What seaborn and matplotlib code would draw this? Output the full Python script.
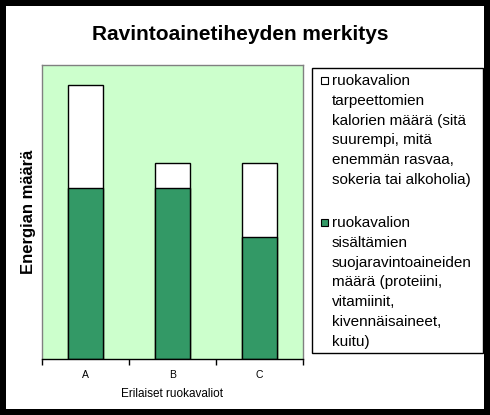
import matplotlib
matplotlib.use("Agg")
import matplotlib.pyplot as plt
from matplotlib.patches import Rectangle
import seaborn as sns

# data
diets = ["A", "B", "C"]
protective = [3.5, 3.5, 2.5]      # suojaravintoaineet (green)
empty_cal = [2.1, 0.5, 1.5]       # tarpeettomat kalorit (white)
totals = [p + e for p, e in zip(protective, empty_cal)]

legend_labels = [
    "ruokavalion\ntarpeettomien\nkalorien määrä (sitä\nsuurempi, mitä\nenemmän rasvaa,\nsokeria tai alkoholia)",
    "ruokavalion\nsisältämien\nsuojaravintoaineiden\nmäärä (proteiini,\nvitamiinit,\nkivennäisaineet,\nkuitu)",
]

sns.set_theme(style="white")
plt.rcParams["font.family"] = ["Liberation Sans", "DejaVu Sans"]
plt.rcParams["text.color"] = "black"
plt.rcParams["axes.labelcolor"] = "black"
plt.rcParams["xtick.color"] = "black"

green = "#339966"
bg = "#ccffcc"

fig = plt.figure(figsize=(4.9, 4.15), dpi=100)
fig.patch.set_facecolor("white")
fig.patch.set_edgecolor("black")
fig.patch.set_linewidth(7.5)

ax = fig.add_axes([0.0857, 0.135, 0.532, 0.708])
ax.set_facecolor(bg)

# stacked bars: total first (white), protective part on top of it
sns.barplot(x=diets, y=totals, color="white", edgecolor="black", linewidth=1,
            width=0.4, saturation=1, errorbar=None, ax=ax)
sns.barplot(x=diets, y=protective, color=green, edgecolor="black", linewidth=1,
            width=0.4, saturation=1, errorbar=None, ax=ax)

ax.set_xlim(-0.5, 2.5)
ax.set_ylim(0, 6)
ax.set_yticks([])

# category boundary ticks + centered labels
ax.set_xticks([-0.5, 0.5, 1.5, 2.5])
ax.set_xticklabels([])
ax.set_xticks([0, 1, 2], minor=True)
ax.set_xticklabels(diets, minor=True, fontsize=7.5)
ax.tick_params(axis="x", which="major", bottom=True, length=4, width=1, color="black", direction="out")
ax.tick_params(axis="x", which="minor", bottom=True, length=0, pad=8)

for s in ["left", "top", "right"]:
    ax.spines[s].set_color("#808080")
    ax.spines[s].set_linewidth(1)
ax.spines["bottom"].set_color("black")
ax.spines["bottom"].set_linewidth(1)

ax.set_xlabel("Erilaiset ruokavaliot", fontsize=8.5, labelpad=6)
ax.set_ylabel("Energian määrä", fontsize=12, fontweight="bold", labelpad=4)

fig.text(0.490, 0.918, "Ravintoainetiheyden merkitys", fontsize=15,
         fontweight="bold", ha="center", va="center")

# legend box drawn by hand (multi-line labels, marker on first line)
fig.add_artist(Rectangle((0.637, 0.149), 0.349, 0.687, transform=fig.transFigure,
                         facecolor="white", edgecolor="black", linewidth=1))
first_line_y = [81, 223]
colors = ["white", green]
for lab, y, c in zip(legend_labels, first_line_y, colors):
    fig.add_artist(Rectangle((321 / 490, (415 - y - 3.5) / 415), 7 / 490, 7 / 415,
                             transform=fig.transFigure, facecolor=c,
                             edgecolor="black", linewidth=0.8))
    fig.text(332 / 490, (415 - y + 7) / 415, lab, fontsize=11, ha="left",
             va="top", linespacing=1.53)

fig.savefig("out.png", dpi=100, facecolor="white", edgecolor="black")
